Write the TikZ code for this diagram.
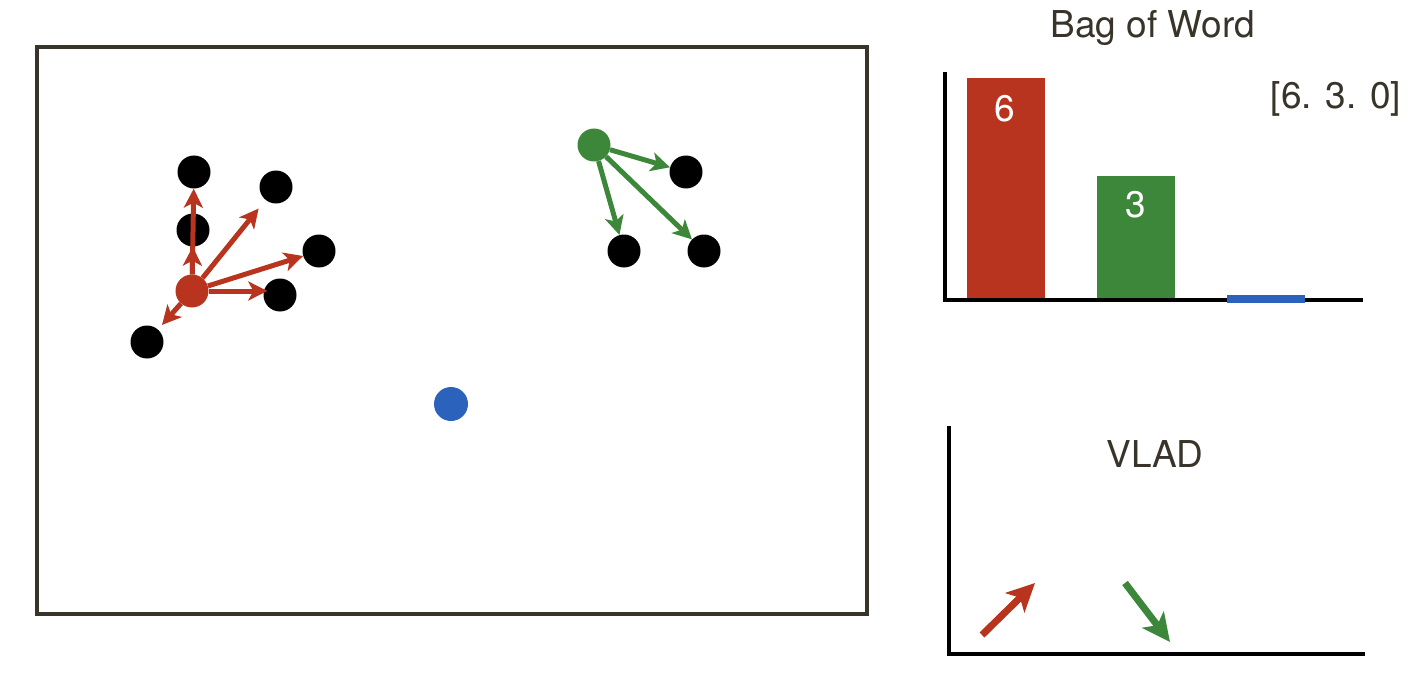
\documentclass[tikz,border=0pt]{standalone}
\usepackage{fontspec}
\setmainfont{TeX Gyre Heros}
\usetikzlibrary{arrows.meta}
\definecolor{cred}{HTML}{B8341E}
\definecolor{cgreen}{HTML}{3C873A}
\definecolor{cblue}{HTML}{2B63BC}
\definecolor{cframe}{HTML}{38342A}

\begin{document}
\begin{tikzpicture}[x=1pt,y=-1pt,
  dot/.style={circle,fill=black,inner sep=0pt,minimum size=33pt},
  center/.style={dot,fill=#1},
  vec/.style={line width=5pt,draw=#1,-{Stealth[length=19pt,width=19pt,inset=5pt]}},
  bigvec/.style={line width=7pt,draw=#1,-{Stealth[length=28pt,width=27pt,inset=7pt]}},
  lbl/.style={text=cframe,anchor=base,font=\fontsize{37}{40}\selectfont},
  num/.style={text=white,anchor=base,font=\fontsize{37}{40}\selectfont},
  axis/.style={line width=4pt,draw=black}]
  \useasboundingbox (0,0) rectangle (1422,690);

  \draw[line width=4.5pt,draw=cframe] (37,47) rectangle (867,614);

  \node[dot](A1) at (194,172) {};
  \node[dot](A2) at (276,187) {};
  \node[dot](A3) at (193,230) {};
  \node[dot](A4) at (319,251) {};
  \node[dot](A5) at (280,295) {};
  \node[dot](A6) at (147,342) {};
  \node[dot](B1) at (686,172) {};
  \node[dot](B2) at (624,251) {};
  \node[dot](B3) at (704,251) {};
  \node[center=cred](R) at (192,291) {};
  \node[center=cgreen](G) at (594,145) {};
  \node[center=cblue,minimum size=34pt](Bl) at (451,404) {};

  \draw[vec=cred] (R) -- (A1);
  \draw[vec=cred] (R) -- (A3);
  \draw[vec=cred,shorten >=11pt] (R) -- (A2);
  \draw[vec=cred] (R) -- (A4);
  \draw[vec=cred,shorten >=-4pt] (R.east) -- (R.east -| A5.west);
  \draw[vec=cred,shorten >=6pt] (R) -- (A6);
  \draw[vec=cgreen] (G) -- (B1);
  \draw[vec=cgreen] (G) -- (B2);
  \draw[vec=cgreen] (G) -- (B3);

  \node[lbl](BowTitle) at (1153,38) {Bag of Word};
  \fill[cred] (967,78) rectangle (1045,300);
  \fill[cgreen] (1097,176) rectangle (1175,300);
  \draw[axis] (945,72) -- (945,300) -- (1363,300);
  \fill[cblue] (1227,295) rectangle (1305,303);
  \node[num](N6) at (1005,122) {6};
  \node[num](N3) at (1136,217) {3};
  \node[lbl](Vec) at (1336,109) {[6. 3. 0]};

  \draw[axis] (949,426) -- (949,654) -- (1365,654);
  \node[lbl](VladTitle) at (1155,467) {VLAD};
  \coordinate (RS) at (982,635);
  \coordinate (RE) at (1035,583);
  \coordinate (GS) at (1125,583);
  \coordinate (GE) at (1170,642);
  \draw[bigvec=cred] (RS) -- (RE);
  \draw[bigvec=cgreen] (GS) -- (GE);
\end{tikzpicture}
\end{document}
